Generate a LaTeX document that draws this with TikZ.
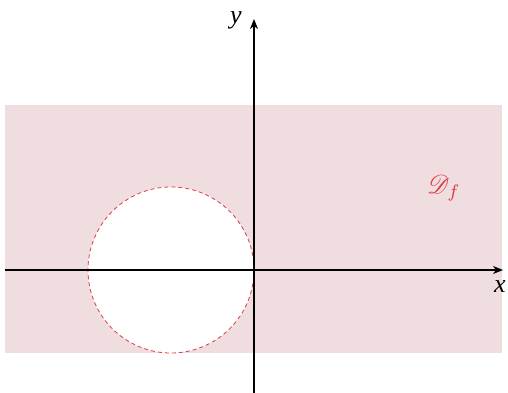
\documentclass[tikz,border=0pt]{standalone}
\usepackage{mathrsfs}
\usepackage{fontspec}
\newfontfamily\lserif{Liberation Serif}
\usetikzlibrary{arrows.meta}
\definecolor{regionpink}{RGB}{240,221,223}
\definecolor{bordred}{RGB}{222,60,68}
\tikzset{
  axis/.style={line width=1.6pt,-{Stealth[length=10pt,width=8pt,inset=3pt]}},
  hole/.style={fill=white,draw=bordred,line width=0.8pt,dash pattern=on 4pt off 3pt},
  lbl/.style={inner sep=0pt,font=\fontsize{26}{28}\selectfont\lserif\itshape}
}
\begin{document}
\begin{tikzpicture}[x=1pt,y=-1pt]
\useasboundingbox (0,0) rectangle (508,393);
\fill[regionpink] (5,105) rectangle (502,353);
\node[circle,minimum size=166pt,hole] (c) at (171,270) {};
\coordinate (xs) at (5,270);
\coordinate (xe) at (503,270);
\coordinate (ys) at (254,393);
\coordinate (ye) at (254,19);
\draw[axis] (xs) -- (xe);
\draw[axis] (ys) -- (ye);
\node[lbl] (xl) at (500,287) {x};
\node[lbl] (yl) at (236,20) {y};
\node[inner sep=0pt,text=bordred] (df) at (444,188) {\scalebox{2.6}{$\mathscr{D}_f$}};
\end{tikzpicture}
\end{document}
